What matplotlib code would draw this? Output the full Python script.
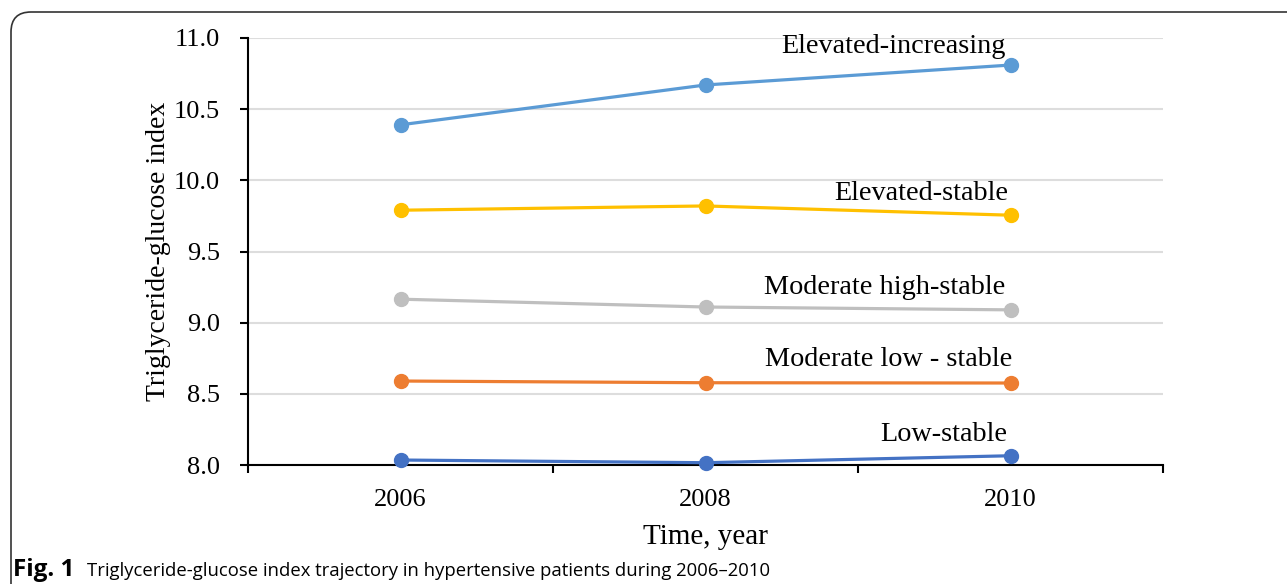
import matplotlib
matplotlib.use("Agg")
import matplotlib.pyplot as plt
from matplotlib.patches import FancyBboxPatch

years = ["2006", "2008", "2010"]
series_names = [
    "Elevated-increasing",
    "Elevated-stable",
    "Moderate high-stable",
    "Moderate low - stable",
    "Low-stable",
]
elevated_increasing = [10.39, 10.67, 10.81]
elevated_stable = [9.79, 9.82, 9.755]
moderate_high_stable = [9.165, 9.11, 9.09]
moderate_low_stable = [8.59, 8.578, 8.576]
low_stable = [8.035, 8.016, 8.065]
series_values = [
    elevated_increasing,
    elevated_stable,
    moderate_high_stable,
    moderate_low_stable,
    low_stable,
]
colors = ["#5B9BD5", "#FFC000", "#BFBFBF", "#ED7D31", "#4472C4"]
y_ticks = [8.0, 8.5, 9.0, 9.5, 10.0, 10.5, 11.0]

# label placement relative to the 2010 point, in pixels (x, baseline above point)
label_offsets_px = [(-5, 12), (-2, 15), (-5, 16), (2, 17), (-3, 15)]

plt.rcParams["font.family"] = ["Liberation Serif", "DejaVu Serif"]


def main() -> None:
    fig = plt.figure(figsize=(12.87, 5.84), dpi=100)
    ax = fig.add_axes([248 / 1287, 1 - 465 / 584, (1163 - 248) / 1287, (465 - 38) / 584])
    px = 72 / fig.dpi

    x = list(range(len(years)))
    for name, values, color, (dx, dy) in zip(series_names, series_values, colors,
                                             label_offsets_px):
        ax.plot(x, values, color=color, linewidth=2.3, marker="o",
                markersize=10, zorder=3, clip_on=False)
        ax.annotate(name, xy=(x[-1], values[-1]), xytext=(dx * px, dy * px),
                    textcoords="offset points", ha="right", va="baseline",
                    fontsize=20.3)

    ax.set_xlim(-0.5, len(years) - 0.5)
    ax.set_ylim(8.0, 11.0)
    ax.set_xticks(x)
    ax.set_xticklabels(years)
    ax.set_xticks([i - 0.5 for i in range(len(years) + 1)], minor=True)
    ax.tick_params(axis="x", which="major", length=0, pad=17, labelsize=19)
    ax.tick_params(axis="x", which="minor", length=6, width=1.5, direction="out")
    ax.set_yticks(y_ticks)
    ax.set_yticklabels([f"{v:.1f}" for v in y_ticks])
    ax.tick_params(axis="y", length=6, width=1.5, pad=14, labelsize=19)

    ax.grid(True, axis="y", color="#DDDDDD", linewidth=1.5, zorder=0)
    ax.set_axisbelow(True)
    for side in ("top", "right"):
        ax.spines[side].set_visible(False)
    for side in ("left", "bottom"):
        ax.spines[side].set_linewidth(1.5)
        ax.spines[side].set_zorder(2)

    ax.set_ylabel("Triglyceride-glucose index", fontsize=20, labelpad=2)
    ax.set_xlabel("Time, year", fontsize=21, labelpad=10)

    # rounded frame, only the top-left corner is inside the picture
    frame = FancyBboxPatch((0.11, -0.5), 13.5, 5.72 + 0.5,
                           boxstyle="round,pad=0,rounding_size=0.2",
                           transform=fig.dpi_scale_trans, fill=False,
                           edgecolor="#333333", linewidth=1.2, clip_on=False)
    fig.add_artist(frame)

    fig.text(13 / 1287, 8 / 584, "Fig. 1", fontsize=17.5, fontweight="bold",
             family="Open Sans", ha="left", va="baseline")
    fig.text(87 / 1287, 8 / 584,
             "Triglyceride-glucose index trajectory in hypertensive patients during 2006\u20132010",
             fontsize=13.3, family="Open Sans", ha="left", va="baseline")

    fig.savefig("out.png", dpi=100)
    plt.close(fig)


if __name__ == "__main__":
    main()
